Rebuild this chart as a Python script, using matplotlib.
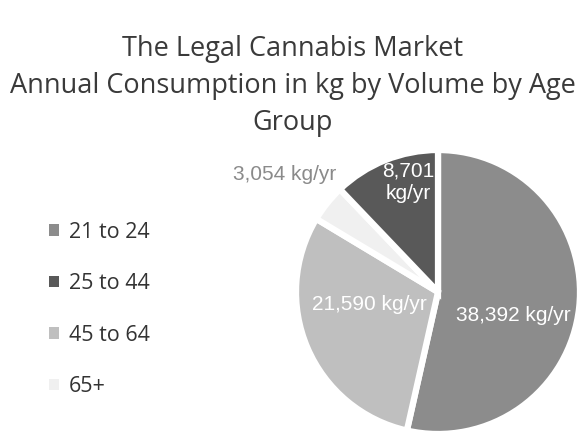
import numpy as np
import matplotlib
matplotlib.use("Agg")
import matplotlib.pyplot as plt
from matplotlib.patches import Patch

# Annual consumption (kg/yr) by age group
groups = ["21 to 24", "25 to 44", "45 to 64", "65+"]
volumes = [38392, 8701, 21590, 3054]
value_labels = ["38,392 kg/yr", "8,701\nkg/yr", "21,590 kg/yr", "3,054 kg/yr"]
colors = ["#8c8c8c", "#595959", "#bfbfbf", "#f0f0f0"]

# wedges are drawn clockwise starting at 12 o'clock in this order
pie_order = [0, 2, 3, 1]

title_font = ["Open Sans", "DejaVu Sans"]
label_font = ["Liberation Sans Narrow", "Liberation Sans", "DejaVu Sans"]

fig = plt.figure(figsize=(5.79, 4.42), dpi=100)
fig.patch.set_facecolor("white")

fig.text(0.506, 0.805, "The Legal Cannabis Market\nAnnual Consumption in kg by Volume by Age\nGroup",
         ha="center", va="center", fontsize=19.5, color="#3a3a3a",
         family=title_font, linespacing=1.42)

W, H = 579, 442
cx, cy, R = 438, 292, 142
ax = fig.add_axes([(cx - R) / W, (H - cy - R) / H, 2 * R / W, 2 * R / H])

vals = [volumes[i] for i in pie_order]
cols = [colors[i] for i in pie_order]
wedges, _ = ax.pie(vals, colors=cols, startangle=90, counterclock=False,
                   radius=1.0, center=(0, 0),
                   wedgeprops=dict(edgecolor="white", linewidth=4.5))
ax.set_xlim(-1, 1)
ax.set_ylim(-1, 1)
ax.axis("off")

# value labels: (radius fraction, angle in degrees, colour)
label_pos = {0: (0.555, -17.7, "white"),
             1: (0.80, 105, "white"),
             2: (0.49, 190, "white"),
             3: (1.36, 142.6, "#8a8a8a")}
for i, (r, ang, c) in label_pos.items():
    t = np.deg2rad(ang)
    ax.text(r * np.cos(t), r * np.sin(t), value_labels[i], ha="center", va="center",
            fontsize=15, color=c, family=label_font, linespacing=1.2,
            clip_on=False)

handles = [Patch(facecolor=colors[i], edgecolor="none") for i in range(len(groups))]
leg = fig.legend(handles, groups, loc="center left", bbox_to_anchor=(0.052, 0.300),
                 frameon=False, handlelength=0.45, handleheight=0.45,
                 handletextpad=0.45, labelspacing=1.42,
                 prop={"family": title_font, "size": 15.5})
for txt in leg.get_texts():
    txt.set_color("#333333")

fig.savefig("out.png", dpi=100, facecolor="white")
